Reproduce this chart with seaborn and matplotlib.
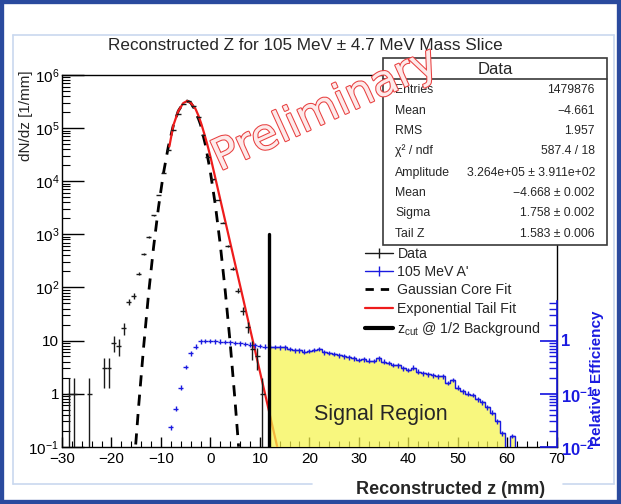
import numpy as np
import matplotlib
matplotlib.use("Agg")
import matplotlib.pyplot as plt
import matplotlib.patheffects as pe
import seaborn as sns
from matplotlib.lines import Line2D
from matplotlib.patches import Rectangle
from matplotlib.ticker import FixedLocator, LogLocator, MultipleLocator, NullFormatter, FuncFormatter

# data: bin centres (mm) and dN/dz [1/mm]
data_z = [-28.5, -27.5, -24.5, -21.5, -20.5, -19.5, -18.5, -17.5, -16.5, -15.5, -14.5, -13.5,
          -12.5, -11.5, -10.5, -9.5, -8.5, -7.5, -6.5, -5.5, -4.5, -3.5, -2.5, -1.5, -0.5,
          0.5, 1.5, 2.5, 3.5, 4.5, 5.5, 6.5, 7.5, 8.5, 9.5, 10.5]
data_n = [1, 1, 1, 3, 3, 9, 8, 17, 53, 70, 182, 425,
          880, 2300, 5500, 14500, 39000, 91000, 185000, 290000, 327000, 265000, 160000, 74000, 29000,
          10800, 4400, 1650, 610, 225, 87, 36, 18, 7, 5, 1]

# 105 MeV A' signal, in left-axis units (relative efficiency x 10)
sig_z = list(range(-8, 62))
sig_n = [0.23, 0.52, 1.3, 3.2, 5.7, 7.7, 9.7, 9.9, 9.8, 9.7, 9.5, 9.4, 9.2, 9.0, 8.8, 8.6, 8.4, 8.1, 7.9, 7.7,
         7.6, 7.6, 7.5, 7.4, 7.0, 6.6, 6.5, 6.2, 6.4, 6.7, 6.9, 6.0, 5.8, 5.6, 5.3, 5.0, 4.8, 4.6, 4.3, 4.4,
         4.2, 4.1, 4.6, 4.0, 3.8, 3.5, 3.4, 3.0, 2.8, 3.1, 2.6, 2.4, 2.3, 2.2, 2.1, 2.1, 1.6, 1.8, 1.3, 1.1,
         1.0, 0.95, 0.78, 0.68, 0.55, 0.44, 0.3, 0.18, 0, 0.16]

# fit curves
gauss_z = [-15.1, -14.5, -13.5, -12.5, -11.5, -10.5, -9.5, -8.5, -7.5, -6.5, -5.5, -4.7,
           -4.0, -3.0, -2.0, -1.0, 0.0, 1.0, 2.0, 3.0, 4.0, 5.0, 5.7]
gauss_n = [0.11, 0.59, 7.6, 76, 560, 3200, 14000, 45000, 112000, 209000, 295000, 324000,
           302000, 214000, 117000, 48000, 14800, 3550, 630, 85, 8.9, 0.69, 0.1]
tail_z = [-8.3, -7.5, -6.5, -5.5, -4.7, -4.0, -3.0, -2.4, -1.8, -1.2, -0.6, 0.0, 13.5]
tail_n = [45000, 112000, 209000, 295000, 324000, 302000, 229000, 170000, 117000, 76000, 48000, 29000, 0.1]

z_cut = 11.75
z_cut_top = 1000

stats_labels = ['Entries', 'Mean', 'RMS', 'χ² / ndf', 'Amplitude', 'Mean', 'Sigma', 'Tail Z']
stats_values = ['1479876', '\u22124.661', '1.957', '587.4 / 18', '3.264e+05 \u00b1 3.911e+02',
                '\u22124.668 \u00b1 0.002', '1.758 \u00b1 0.002', '1.583 \u00b1 0.006']

legend_labels = ['Data', "105 MeV A'", 'Gaussian Core Fit', 'Exponential Tail Fit',
                 r'z$_{\mathregular{cut}}$ @ 1/2 Background']

sns.set_theme(style='ticks')
plt.rcParams['font.family'] = ['Liberation Sans', 'DejaVu Sans']
plt.rcParams['mathtext.fontset'] = 'custom'
plt.rcParams['mathtext.rm'] = 'Liberation Sans'
plt.rcParams['mathtext.it'] = 'Liberation Sans:italic'
plt.rcParams['mathtext.bf'] = 'Liberation Sans:bold'

BLUE = '#1a1ae0'
YELLOW = '#f6f44c'

fig = plt.figure(figsize=(6.21, 5.04), dpi=100)
fig.patch.set_facecolor('white')
W, H = 621.0, 504.0
ax = fig.add_axes([62 / W, 1 - 446.7 / H, (556.7 - 62) / W, (446.7 - 75) / H])
ax.set_facecolor('white')

# fit curves
sns.lineplot(x=gauss_z, y=gauss_n, ax=ax, color='black', linestyle=(0, (4, 3)), linewidth=2, zorder=3)
sns.lineplot(x=tail_z, y=tail_n, ax=ax, color='#ee1c1c', linewidth=1.6, zorder=3)

# signal region fill (z > z_cut)
sz = np.array(sig_z)
sn = np.array(sig_n, dtype=float)
sel = sz >= 12
edges = np.concatenate([[z_cut], sz[sel] + 0.5])
vals = np.maximum(sn[sel], 0.01)
ax.stairs(vals, edges, baseline=0.01, fill=True, color=YELLOW, alpha=0.72, zorder=4, linewidth=0)
ax.stairs(vals, edges, baseline=0.01, fill=False, color=BLUE, linewidth=1.0, zorder=5)

# signal points
nz = sn > 0
ax.errorbar(sz[nz], sn[nz], xerr=0.5, yerr=0.1 * sn[nz], fmt='none', ecolor=BLUE, elinewidth=1.0, zorder=6)

# data points
dz = np.array(data_z, dtype=float)
dn = np.array(data_n, dtype=float)
err = np.sqrt(dn)
lo = np.minimum(err, dn - 1e-3)
ax.errorbar(dz, dn, xerr=0.5, yerr=[lo, err], fmt='none', ecolor='#1a1a1a', elinewidth=1.0, zorder=7)

# z cut line
ax.plot([z_cut, z_cut], [0.1, z_cut_top], color='black', linewidth=2.4, zorder=8)

ax.set_yscale('log')
ax.set_xlim(-30, 70)
ax.set_ylim(0.1, 1e6)
ax.xaxis.set_major_locator(MultipleLocator(10))
ax.xaxis.set_minor_locator(MultipleLocator(2))
ax.xaxis.set_major_formatter(FuncFormatter(lambda v, p: ('%d' % v).replace('-', '\u2212')))


def log_label(v, pos):
    e = int(round(np.log10(v)))
    if e == 0:
        return '1'
    if e == 1:
        return '10'
    return r'$\mathregular{10^{%d}}$' % e


ax.yaxis.set_major_locator(LogLocator(base=10, numticks=20))
ax.yaxis.set_minor_locator(LogLocator(base=10, subs=np.arange(2, 10), numticks=20))
ax.yaxis.set_major_formatter(FuncFormatter(log_label))
ax.yaxis.set_minor_formatter(NullFormatter())
ax.tick_params(axis='both', which='both', direction='in', top=False, right=False, colors='black', labelsize=11)
ax.tick_params(axis='y', which='major', length=16, width=1, pad=2)
ax.tick_params(axis='y', which='minor', length=6, width=0.8)
ax.tick_params(axis='x', which='major', length=7, width=1, pad=4)
ax.tick_params(axis='x', which='minor', length=4, width=0.8)
for s in ax.spines.values():
    s.set_color('black')
    s.set_linewidth(1.0)

# right efficiency axis
ax2 = ax.twinx()
ax2.set_yscale('log')
ax2.set_ylim(0.01, 1e5)
for k in ['left', 'top', 'bottom']:
    ax2.spines[k].set_visible(False)
ax2.spines['right'].set_bounds(0.01, 5.5)
ax2.spines['right'].set_color(BLUE)
ax2.spines['right'].set_linewidth(1.2)
ax2.yaxis.set_major_locator(FixedLocator([0.01, 0.1, 1]))
ax2.yaxis.set_minor_locator(FixedLocator([0.02, 0.03, 0.04, 0.05, 0.06, 0.07, 0.08, 0.09,
                                          0.2, 0.3, 0.4, 0.5, 0.6, 0.7, 0.8, 0.9, 2, 3, 4, 5]))
ax2.set_yticklabels([r'$\mathbf{10^{-2}}$', r'$\mathbf{10^{-1}}$', '1'], fontweight='bold', color=BLUE, fontsize=12)
ax2.yaxis.set_minor_formatter(NullFormatter())
ax2.tick_params(axis='y', which='both', direction='in', colors=BLUE, pad=3)
ax2.tick_params(axis='y', which='major', length=12)
ax2.tick_params(axis='y', which='minor', length=6)
ax2.grid(False)

# legend
handles = [Line2D([], [], color='#1a1a1a', lw=1, marker='|', markersize=7),
           Line2D([], [], color=BLUE, lw=1, marker='|', markersize=7),
           Line2D([], [], color='black', lw=2, linestyle=(0, (3, 2.5))),
           Line2D([], [], color='#ee1c1c', lw=1.6),
           Line2D([], [], color='black', lw=3)]
ax.legend(handles, legend_labels, loc='upper left', bbox_to_anchor=(362 / W, 1 - 244 / H),
          bbox_transform=fig.transFigure, frameon=False, fontsize=10.2, handlelength=2.0,
          handletextpad=0.3, labelspacing=0.3, borderpad=0.2, borderaxespad=0)

ax.text(34.5, 0.4, 'Signal Region', fontsize=15.5, ha='center', va='center', zorder=9)

# titles
fig.text(305 / W, 1 - 45 / H, 'Reconstructed Z for 105 MeV \u00b1 4.7 MeV Mass Slice', fontsize=12.3,
         ha='center', va='center')
fig.text(26 / W, 1 - 70 / H, 'dN/dz [1/mm]', rotation=90, fontsize=11, ha='center', va='top')
fig.text(545 / W, 1 - 489 / H, 'Reconstructed z (mm)', fontsize=13, fontweight='bold', ha='right',
         va='center', zorder=4)
fig.text(597 / W, 1 - 378 / H, 'Relative Efficiency', rotation=90, fontsize=11, fontweight='bold',
         color=BLUE, ha='center', va='center')

# stats box
fig.add_artist(Rectangle((383 / W, 1 - 245 / H), 224 / W, 187 / H, transform=fig.transFigure,
                         facecolor='white', edgecolor='#3a3a3a', linewidth=1.2, zorder=5))
fig.add_artist(Line2D([383 / W, 607 / W], [1 - 79.3 / H, 1 - 79.3 / H], transform=fig.transFigure,
                      color='#3a3a3a', linewidth=1.2, zorder=6))
fig.text(495 / W, 1 - 69 / H, 'Data', fontsize=12, ha='center', va='center', zorder=6)
rows_y = [90, 110.7, 131, 151, 172.7, 193.3, 213.3, 234]
for lab, val, yy in zip(stats_labels, stats_values, rows_y):
    fig.text(395 / W, 1 - yy / H, lab, fontsize=8.8, ha='left', va='center', zorder=6)
    fig.text(595 / W, 1 - yy / H, val, fontsize=8.8, ha='right', va='center', zorder=6)

# watermark
fig.text(325 / W, 1 - 110 / H, 'Preliminary', fontsize=31, family='DejaVu Sans', rotation=24.5,
         ha='center', va='center', color='#fdeaea', zorder=10,
         path_effects=[pe.Stroke(linewidth=1.5, foreground='#e84040'), pe.Normal()])

# slide frame (bottom edge broken by the x title)
frame_col = '#c9d8ef'
fx0, fx1, fy0, fy1 = 13 / W, 614 / W, 1 - 484 / H, 1 - 35 / H
for xs, ys in [([fx0, fx0], [fy0, fy1]), ([fx1, fx1], [fy0, fy1]), ([fx0, fx1], [fy1, fy1]),
               ([fx0, 312 / W], [fy0, fy0]), ([563 / W, fx1], [fy0, fy0])]:
    fig.add_artist(Line2D(xs, ys, transform=fig.transFigure, color=frame_col, linewidth=1.2, zorder=2))
fig.add_artist(Rectangle((0, 0), 1, 1, transform=fig.transFigure, fill=False,
                         edgecolor='#2a4a9e', linewidth=6, zorder=11))

fig.savefig('out.png', dpi=100)
